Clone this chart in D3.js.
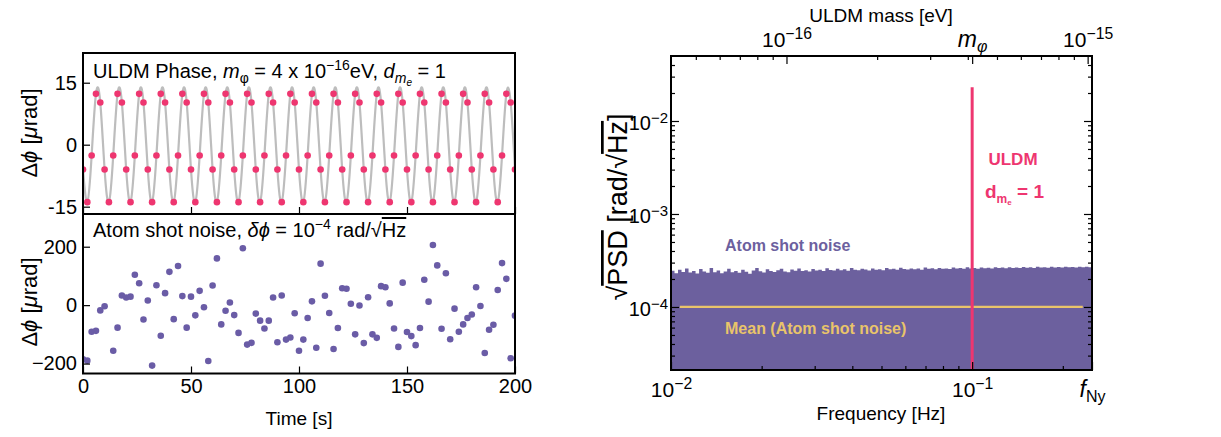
<!DOCTYPE html>
<html>
<head>
<meta charset="utf-8">
<script src="https://cdn.jsdelivr.net/npm/d3@7"></script>
<style>
  body { margin: 0; background: #fff; }
  svg { display: block; }
  text { font-family: "Liberation Sans", Arial, sans-serif; fill: #000; }
</style>
</head>
<body>
<svg id="fig" width="1221" height="437"></svg>
<script>
(function () {
    "use strict";

    // ---- data ----
    var sampleStep = 2; // seconds between samples

    // ULDM phase samples [urad], one every sampleStep
    var phaseValues = [
        -6.0, -13.9, -2.6, 12.3, 10.2, -6.0, -13.9, -2.6, 12.3, 10.2,
        -6.0, -13.9, -2.6, 12.3, 10.2, -6.0, -13.9, -2.6, 12.3, 10.2,
        -6.0, -13.9, -2.6, 12.3, 10.2, -6.0, -13.9, -2.6, 12.3, 10.2,
        -6.0, -13.9, -2.6, 12.3, 10.2, -6.0, -13.9, -2.6, 12.3, 10.2,
        -6.0, -13.9, -2.6, 12.3, 10.2, -6.0, -13.9, -2.6, 12.3, 10.2,
        -6.0, -13.9, -2.6, 12.3, 10.2, -6.0, -13.9, -2.6, 12.3, 10.2,
        -6.0, -13.9, -2.6, 12.3, 10.2, -6.0, -13.9, -2.6, 12.3, 10.2,
        -6.0, -13.9, -2.6, 12.3, 10.2, -6.0, -13.9, -2.6, 12.3, 10.2,
        -6.0, -13.9, -2.6, 12.3, 10.2, -6.0, -13.9, -2.6, 12.3, 10.2,
        -6.0, -13.9, -2.6, 12.3, 10.2, -6.0, -13.9, -2.6, 12.3, 10.2,
        -6.0
    ];

    // atom shot noise samples [urad] (null = outside the plotted range)
    var noiseValues = [
        -185, -190, -91, -88, -18, -4, null, -156, -77, 33,
        26, 29, 104, 75, -49, 16, -207, 68, -105, 41,
        114, -48, 134, 31, -77, 29, -35, 49, -7, -191,
        67, 160, -66, -19, 9, -34, -95, 195, -135, -129,
        -29, -53, -80, -53, 26, -127, 33, -118, -111, -28,
        -156, -118, -44, 13, -146, 142, 32, -27, -150, -78,
        58, 56, 5, -100, -1, -130, 27, -100, -112, 65,
        61, 6, -80, -143, 77, -92, -106, -137, -78, 87,
        12, 206, 136, -81, 109, -117, -12, -91, -66, -44,
        -32, 61, -3, -164, -84, -67, 52, 144, 90, -182,
        -36
    ];

    // sqrt PSD of the shot noise, top of each bin [1e-4 rad/sqrt(Hz)]
    var psdValues = [
        2.45, 2.31, 2.52, 2.38, 2.60, 2.35, 2.44, 2.29, 2.56, 2.40,
        2.33, 2.62, 2.37, 2.47, 2.30, 2.41, 2.58, 2.36, 2.43, 2.34,
        2.51, 2.39, 2.28, 2.46, 2.63, 2.42, 2.35, 2.55, 2.44, 2.38,
        2.49, 2.57, 2.41, 2.36, 2.53, 2.45, 2.60, 2.43, 2.48, 2.40,
        2.56, 2.47, 2.52, 2.44, 2.61, 2.50, 2.46, 2.58, 2.49, 2.54,
        2.45, 2.63, 2.51, 2.48, 2.57, 2.53, 2.47, 2.60, 2.52, 2.55,
        2.49, 2.62, 2.54, 2.58, 2.51, 2.64, 2.56, 2.53, 2.60, 2.55,
        2.59, 2.52, 2.66, 2.57, 2.61, 2.54, 2.63, 2.58, 2.60, 2.56,
        2.65, 2.59, 2.62, 2.57, 2.67, 2.60, 2.63, 2.58, 2.66, 2.61,
        2.64, 2.60, 2.68, 2.62, 2.65, 2.61, 2.67, 2.63, 2.66, 2.62,
        2.69, 2.64, 2.67, 2.63, 2.70, 2.65, 2.68, 2.64, 2.71, 2.66,
        2.69, 2.65, 2.70, 2.67, 2.69, 2.66, 2.71, 2.68, 2.70, 2.67
    ];
    var freqRange = [0.01, 0.25];          // Hz, right edge is f_Ny
    var meanFreq = [0.0107, 0.233];        // extent of the mean line
    var meanLevel = 1e-4;
    var uldmFreq = 0.1;
    var uldmPeak = 0.023;
    var planck = 4.1357e-15;               // eV s

    var timeTicks = [0, 50, 100, 150, 200];
    var phaseTicks = [15, 0, -15];
    var phaseTickLabels = ["15", "0", "-15"];
    var noiseTicks = [200, 0, -200];
    var psdTicks = [1e-2, 1e-3, 1e-4];
    var psdTickExp = ["\u22122", "\u22123", "\u22124"];
    var freqTicks = [0.01, 0.1, 0.25];
    var massTicks = [1e-16, 1e-15];
    var massTickExp = ["\u221216", "\u221215"];
    var massPhi = 4.1357e-16;

    // ---- colours ----
    var pink = "#EE3670";
    var purple = "#6C609E";
    var dotPurple = "#6A5CA6";
    var gold = "#E9C46A";
    var grey = "#BDBDBD";

    var svg = d3.select("#fig");

    // ---- scales ----
    var xTime = d3.scaleLinear().domain([0, 200]).range([83, 515]);
    var yPhase = d3.scaleLinear().domain([-16.77, 22.19]).range([214, 53]);
    var yNoise = d3.scaleLinear().domain([-234, 312]).range([373.5, 214]);

    var xFreq = d3.scaleLog().domain(freqRange).range([671, 1092]);
    var xMass = d3.scaleLog().domain([freqRange[0] * planck, freqRange[1] * planck]).range([671, 1092]);
    var yPsd = d3.scaleLog().domain([2.1e-5, 0.05]).range([370, 56]);

    var defs = svg.append("defs");
    function clip(id, x0, y0, x1, y1) {
        defs.append("clipPath").attr("id", id).append("rect")
            .attr("x", x0).attr("y", y0).attr("width", x1 - x0).attr("height", y1 - y0);
        return "url(#" + id + ")";
    }

    function styleAxis(g, size) {
        g.attr("font-family", null).attr("font-size", null);
        g.select(".domain").remove();
        g.selectAll(".tick line").attr("stroke", "#000").attr("stroke-width", 1.2);
        g.selectAll(".tick text").attr("font-size", size || 20).attr("fill", "#000");
    }

    function powLabel(sel, exp) {
        sel.text(null);
        sel.append("tspan").text("10");
        sel.append("tspan").attr("dy", "-0.5em").attr("font-size", "0.75em").text(exp);
    }

    function richText(g, x, y, size, parts) {
        var t = g.append("text").attr("x", x).attr("y", y).attr("font-size", size);
        parts.forEach(function (p) {
            var s = t.append("tspan").text(p.t);
            if (p.size) s.attr("font-size", p.size);
            if (p.dy) s.attr("dy", p.dy);
            if (p.it) s.attr("font-style", "italic");
            if (p.over) s.attr("text-decoration", "overline");
        });
        return t;
    }

    // ================= top-left: ULDM phase =================
    var gTop = svg.append("g");
    var phasePts = phaseValues.map(function (v, i) { return [i * sampleStep, v]; });
    var clipTop = clip("clipTop", 83, 53, 515, 214);

    gTop.append("path")
        .datum(phasePts)
        .attr("clip-path", clipTop)
        .attr("fill", "none")
        .attr("stroke", grey)
        .attr("stroke-width", 2.2)
        .attr("d", d3.line()
            .x(function (d) { return xTime(d[0]); })
            .y(function (d) { return yPhase(d[1]); })
            .curve(d3.curveNatural));

    gTop.append("g").attr("clip-path", clipTop)
        .selectAll("circle").data(phasePts).enter().append("circle")
        .attr("cx", function (d) { return xTime(d[0]); })
        .attr("cy", function (d) { return yPhase(d[1]); })
        .attr("r", 3.3)
        .attr("fill", pink);

    var axTopY = gTop.append("g").attr("transform", "translate(83,0)")
        .call(d3.axisLeft(yPhase).tickValues(phaseTicks).tickSize(-7).tickPadding(6)
            .tickFormat(function (d, i) { return phaseTickLabels[i]; }));
    styleAxis(axTopY);
    var axTopX = gTop.append("g").attr("transform", "translate(0,214)")
        .call(d3.axisBottom(xTime).tickValues(timeTicks).tickSize(-7).tickFormat(""));
    styleAxis(axTopX);

    richText(gTop, 93, 78, 20, [
        { t: "ULDM Phase, " },
        { t: "m", it: true },
        { t: "\u03c6", size: 14, dy: 5 },
        { t: " = 4 x 10", dy: -5 },
        { t: "\u221216", size: 14, dy: -8 },
        { t: "eV, ", dy: 8 },
        { t: "d", it: true },
        { t: "m", size: 14, dy: 5, it: true },
        { t: "e", size: 10, dy: 3, it: true },
        { t: " = 1", dy: -8 }
    ]);

    // ================= bottom-left: shot noise =================
    var gBot = svg.append("g");
    var clipBot = clip("clipBot", 83, 214, 515, 373.5);
    var noisePts = noiseValues.map(function (v, i) { return [i * sampleStep, v]; })
        .filter(function (d) { return d[1] !== null; });

    gBot.append("g").attr("clip-path", clipBot)
        .selectAll("circle").data(noisePts).enter().append("circle")
        .attr("cx", function (d) { return xTime(d[0]); })
        .attr("cy", function (d) { return yNoise(d[1]); })
        .attr("r", 3.3)
        .attr("fill", dotPurple);

    var axBotY = gBot.append("g").attr("transform", "translate(83,0)")
        .call(d3.axisLeft(yNoise).tickValues(noiseTicks).tickSize(-7).tickPadding(6)
            .tickFormat(function (d) { return d < 0 ? "\u2212" + (-d) : "" + d; }));
    styleAxis(axBotY);
    var axBotX = gBot.append("g").attr("transform", "translate(0,373.5)")
        .call(d3.axisBottom(xTime).tickValues(timeTicks).tickSize(-7).tickPadding(5));
    styleAxis(axBotX);

    richText(gBot, 93, 237, 20, [
        { t: "Atom shot noise, " },
        { t: "\u03b4\u03d5", it: true },
        { t: " = 10" },
        { t: "\u22124", size: 14, dy: -8 },
        { t: " rad/\u221a", dy: 8 },
        { t: "Hz", over: true }
    ]);

    gBot.append("text").attr("x", 299).attr("y", 425).attr("text-anchor", "middle")
        .attr("font-size", 19).text("Time [s]");

    // y labels for the two left panels
    [133, 302].forEach(function (cy) {
        var t = svg.append("text")
            .attr("transform", "translate(37," + cy + ") rotate(-90)")
            .attr("text-anchor", "middle").attr("font-size", 22);
        t.append("tspan").text("\u0394");
        t.append("tspan").attr("font-style", "italic").text("\u03d5");
        t.append("tspan").text(" [");
        t.append("tspan").attr("font-style", "italic").text("\u03bc");
        t.append("tspan").text("rad]");
    });

    // frames
    svg.append("rect").attr("x", 83).attr("y", 53).attr("width", 432).attr("height", 320.5)
        .attr("fill", "none").attr("stroke", "#000").attr("stroke-width", 2);
    svg.append("line").attr("x1", 83).attr("x2", 515).attr("y1", 214).attr("y2", 214)
        .attr("stroke", "#000").attr("stroke-width", 2);

    // ================= right: PSD =================
    var gR = svg.append("g");
    var clipR = clip("clipR", 671, 56, 1092, 370);

    var nBins = psdValues.length;
    var lf0 = Math.log10(freqRange[0]), lf1 = Math.log10(freqRange[1]);
    var psdPts = psdValues.map(function (v, i) {
        return [Math.pow(10, lf0 + i * (lf1 - lf0) / nBins), v * 1e-4];
    });
    psdPts.push([freqRange[1], psdValues[nBins - 1] * 1e-4]);

    gR.append("path").datum(psdPts)
        .attr("clip-path", clipR)
        .attr("fill", purple)
        .attr("d", d3.area()
            .x(function (d) { return xFreq(d[0]); })
            .y0(370)
            .y1(function (d) { return yPsd(d[1]); })
            .curve(d3.curveStepAfter));

    gR.append("line")
        .attr("x1", xFreq(meanFreq[0])).attr("x2", xFreq(meanFreq[1]))
        .attr("y1", yPsd(meanLevel)).attr("y2", yPsd(meanLevel))
        .attr("stroke", gold).attr("stroke-width", 2.2);

    gR.append("line")
        .attr("x1", xFreq(uldmFreq)).attr("x2", xFreq(uldmFreq))
        .attr("y1", yPsd(uldmPeak)).attr("y2", 370)
        .attr("stroke", pink).attr("stroke-width", 3);

    // minor tick values
    var minorPsd = [];
    [-5, -4, -3, -2].forEach(function (e) {
        for (var k = 2; k <= 9; k++) {
            var v = k * Math.pow(10, e);
            if (v > 2.1e-5 && v < 0.05) minorPsd.push(v);
        }
    });
    var minorFreq = [0.02, 0.03, 0.04, 0.05, 0.06, 0.07, 0.08, 0.09, 0.2];
    var minorMass = [];
    [-17, -16].forEach(function (e) {
        for (var k = 2; k <= 9; k++) {
            var v = k * Math.pow(10, e);
            if (v > freqRange[0] * planck && v < freqRange[1] * planck) minorMass.push(v);
        }
    });

    var axL = gR.append("g").attr("transform", "translate(671,0)")
        .call(d3.axisLeft(yPsd).tickValues(psdTicks).tickSize(-8).tickPadding(3));
    styleAxis(axL, 20);
    axL.selectAll(".tick text").attr("dy", "0.45em").each(function (d, i) { powLabel(d3.select(this), psdTickExp[i]); });
    styleAxis(gR.append("g").attr("transform", "translate(671,0)")
        .call(d3.axisLeft(yPsd).tickValues(minorPsd).tickSize(-4).tickFormat("")));
    styleAxis(gR.append("g").attr("transform", "translate(1092,0)")
        .call(d3.axisRight(yPsd).tickValues(psdTicks).tickSize(-8).tickFormat("")));
    styleAxis(gR.append("g").attr("transform", "translate(1092,0)")
        .call(d3.axisRight(yPsd).tickValues(minorPsd).tickSize(-4).tickFormat("")));

    var axB = gR.append("g").attr("transform", "translate(0,370)")
        .call(d3.axisBottom(xFreq).tickValues(freqTicks).tickSize(-8).tickPadding(12));
    styleAxis(axB, 21);
    axB.selectAll(".tick text").each(function (d, i) {
        var s = d3.select(this);
        if (i === 0) powLabel(s, "\u22122");
        else if (i === 1) powLabel(s, "\u22121");
        else {
            s.text(null);
            s.append("tspan").attr("font-style", "italic").attr("font-size", 23).text("f");
            s.append("tspan").attr("dy", "0.3em").attr("font-size", 16).text("Ny");
        }
    });
    styleAxis(gR.append("g").attr("transform", "translate(0,370)")
        .call(d3.axisBottom(xFreq).tickValues(minorFreq).tickSize(-4).tickFormat("")));

    var axT = gR.append("g").attr("transform", "translate(0,56)")
        .call(d3.axisTop(xMass).tickValues(massTicks.concat([massPhi])).tickSize(-8).tickPadding(9));
    styleAxis(axT, 21);
    axT.selectAll(".tick text").each(function (d, i) {
        var s = d3.select(this);
        if (i < 2) powLabel(s, massTickExp[i]);
        else {
            s.text(null);
            s.append("tspan").attr("font-style", "italic").attr("font-size", 23).text("m");
            s.append("tspan").attr("dy", "0.3em").attr("font-size", 16).attr("font-style", "italic").text("\u03c6");
        }
    });
    styleAxis(gR.append("g").attr("transform", "translate(0,56)")
        .call(d3.axisTop(xMass).tickValues(minorMass).tickSize(-4).tickFormat("")));

    gR.append("rect").attr("x", 671).attr("y", 56).attr("width", 421).attr("height", 314)
        .attr("fill", "none").attr("stroke", "#000").attr("stroke-width", 2);

    // axis titles
    gR.append("text").attr("x", 881).attr("y", 22).attr("text-anchor", "middle")
        .attr("font-size", 19).text("ULDM mass [eV]");
    gR.append("text").attr("x", 881).attr("y", 420).attr("text-anchor", "middle")
        .attr("font-size", 19).text("Frequency [Hz]");
    var yl = gR.append("text").attr("transform", "translate(627,207) rotate(-90)")
        .attr("text-anchor", "middle").attr("font-size", 27);
    yl.append("tspan").text("\u221a");
    yl.append("tspan").attr("text-decoration", "overline").text("PSD");
    yl.append("tspan").text(" [rad/\u221a");
    yl.append("tspan").attr("text-decoration", "overline").text("Hz");
    yl.append("tspan").text("]");

    // annotations
    var bold = "'Open Sans', 'DejaVu Sans', sans-serif";
    gR.append("text").attr("x", 1013).attr("y", 165).attr("text-anchor", "middle")
        .attr("font-family", bold).attr("font-weight", 700).attr("font-size", 17)
        .style("fill", pink).text("ULDM");
    var dm = gR.append("text").attr("x", 985).attr("y", 198)
        .attr("font-family", bold).attr("font-weight", 700).attr("font-size", 19)
        .style("fill", pink);
    dm.append("tspan").text("d");
    dm.append("tspan").attr("font-size", 12).attr("dy", 5).text("m");
    dm.append("tspan").attr("font-size", 8).attr("dy", 2).text("e");
    dm.append("tspan").attr("dy", -7).text(" = 1");

    gR.append("text").attr("x", 725).attr("y", 251)
        .attr("font-family", bold).attr("font-weight", 700).attr("font-size", 16)
        .style("fill", purple).text("Atom shot noise");
    gR.append("text").attr("x", 725).attr("y", 334)
        .attr("font-family", bold).attr("font-weight", 700).attr("font-size", 16)
        .style("fill", gold).text("Mean (Atom shot noise)");
})();
</script>
</body>
</html>
